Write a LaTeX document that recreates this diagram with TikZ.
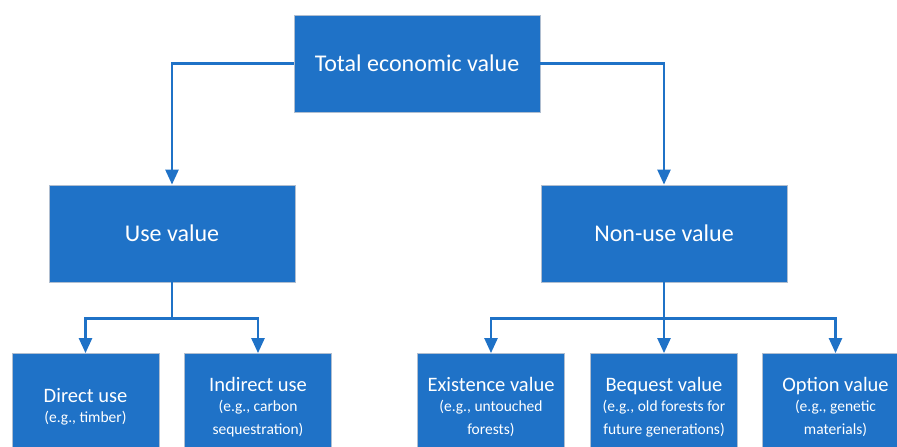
\documentclass[tikz,border=0pt]{standalone}
\usepackage{fontspec}
\setmainfont{Carlito}
\usepackage{xcolor}
\usepackage{tikz}
\usetikzlibrary{arrows.meta,positioning}
\definecolor{evblue}{RGB}{31,114,199}
\definecolor{evedge}{RGB}{176,190,208}
\newcommand{\evsub}[1]{{\fontsize{15.5}{23}\selectfont #1}}
\tikzset{
  evbig/.style={rectangle, draw=evedge, line width=0.8pt, fill=evblue,
                text=white, minimum width=246pt, minimum height=97pt,
                inner sep=2pt, font=\fontsize{24}{28}\selectfont},
  evsmall/.style={rectangle, draw=evedge, line width=0.8pt, fill=evblue,
                text=white, minimum width=147pt, minimum height=107pt,
                inner sep=2pt, align=center, font=\fontsize{20.5}{23}\selectfont},
  evln/.style={draw=evblue, line width=2.5pt},
  evarr/.style={evln, -{Triangle[width=13pt,length=15pt]}}
}

\begin{document}
\begin{tikzpicture}[x=1pt,y=-1pt]
  \clip (0,0) rectangle (897,447);
  \node[evbig] (tev) at (417,63.5) {Total economic value};
  \node[evbig] (use) at (172,233.5) {Use value};
  \node[evbig] (nonuse) at (664,233.5) {Non-use value};
  \node[evsmall] (direct) at (85.5,407) {Direct use\\[-3pt]\evsub{(e.g., timber)}};
  \node[evsmall] (indirect) at (258,407) {Indirect use\\[-3pt]\evsub{(e.g., carbon}\\\evsub{sequestration)}};
  \node[evsmall] (exist) at (491,407) {Existence value\\[-3pt]\evsub{(e.g., untouched}\\\evsub{forests)}};
  \node[evsmall] (bequest) at (664,407) {Bequest value\\[-3pt]\evsub{(e.g., old forests for}\\\evsub{future generations)}};
  \node[evsmall] (option) at (835.5,407) {Option value\\[-3pt]\evsub{(e.g., genetic}\\\evsub{materials)}};
  % forks under the second row
  \coordinate (usefork) at (172,318.5);
  \coordinate (nonfork) at (664,318.5);
  \draw[evarr] (tev.west) -| (use.north);
  \draw[evarr] (tev.east) -| (nonuse.north);
  \draw[evln] (use.south) -- (usefork);
  \draw[evarr] (usefork) -| (direct.north);
  \draw[evarr] (usefork) -| (indirect.north);
  \draw[evln] (nonuse.south) -- (nonfork);
  \draw[evarr] (nonfork) -| (exist.north);
  \draw[evarr] (nonfork) -- (bequest.north);
  \draw[evarr] (nonfork) -| (option.north);
\end{tikzpicture}
\end{document}
